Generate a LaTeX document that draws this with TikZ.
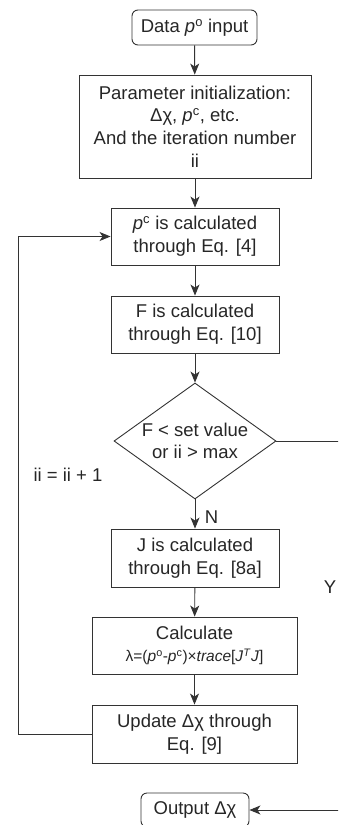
\documentclass[tikz,border=0pt]{standalone}
\usepackage{fontspec}
\setmainfont{Liberation Sans}
\usetikzlibrary{shapes.geometric,arrows.meta}
\newcommand\supx[1]{\textsuperscript{#1}}
\begin{document}
\begin{tikzpicture}[x=1pt,y=-1pt,
  every node/.style={font=\fontsize{18.5pt}{22.7pt}\selectfont, text=black!85},
  box/.style={draw=black!80, line width=0.9pt, align=center, inner sep=0pt},
  term/.style={box, rounded corners=6pt},
  dia/.style={draw=black!80, line width=0.9pt, shape=diamond, inner sep=0pt, minimum width=162pt, minimum height=116pt},
  arr/.style={draw=black!80, line width=0.9pt, -{Stealth[length=11pt,width=9pt,inset=3pt]}},
  ln/.style={draw=black!80, line width=0.9pt}]
\useasboundingbox (0,0) rectangle (338,825);
\clip (0,0) rectangle (338,825);
\node[term, minimum width=125pt, minimum height=35pt] (data) at (194.5,27.5) {Data \textit{p}\supx{o} input};
\node[box, minimum width=232pt, minimum height=103pt] (param) at (195,126.5) {Parameter initialization:\\ Δχ, \textit{p}\supx{c}, etc.\\ And the iteration number\\ ii};
\node[box, minimum width=168pt, minimum height=57pt] (pc) at (195,236.5) {\textit{p}\supx{c} is calculated\\ through Eq. [4]};
\node[box, minimum width=168pt, minimum height=57pt] (F) at (195,324.5) {F is calculated\\ through Eq. [10]};
\node[dia, label={[align=center, font=\fontsize{18.5pt}{22.7pt}\selectfont]center:F < set value\\ or ii > max}] (dec) at (195,441) {};
\node[box, minimum width=168pt, minimum height=58pt] (J) at (195,558) {J is calculated\\ through Eq. [8a]};
\node[box, minimum width=205pt, minimum height=57pt] (calc) at (194.5,645.5) {Calculate\\ {\fontsize{15.5pt}{20pt}\selectfont λ=(\textit{p}\supx{o}-\textit{p}\supx{c})×\textit{trace}[\textit{J}\supx{\textit{T}}\textit{J}]}};
\node[box, minimum width=205pt, minimum height=58pt] (upd) at (194.5,734) {Update Δχ through\\ Eq. [9]};
\node[term, minimum width=108pt, minimum height=34pt] (out) at (195,810) {Output Δχ};
\coordinate (r1) at (345,441);
\coordinate (r2) at (345,810);
\coordinate (l1) at (18,734);
\coordinate (l2) at (18,236.5);
\path[arr] (data) -- (param);
\path[arr] (param) -- (pc);
\path[arr] (pc) -- (F);
\path[arr] (F) -- (dec);
\path[arr] (dec) -- node[right, xshift=6pt, yshift=-3pt] {N} (J);
\path[arr] (J) -- (calc);
\path[arr] (calc) -- (upd);
\path[arr] (upd.west) -- (l1) -- (l2) -- (pc.west);
\path[arr] (dec.east) -- (r1) -- (r2) -- (out.east);
\node[anchor=west] (iilab) at (30,475) {ii = ii + 1};
\node (ylab) at (330,587) {Y};
\end{tikzpicture}
\end{document}
